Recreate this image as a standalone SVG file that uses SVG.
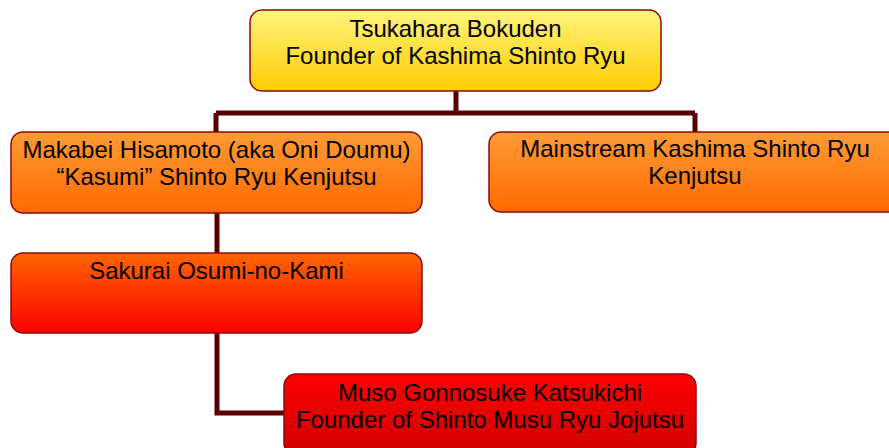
<svg xmlns="http://www.w3.org/2000/svg" width="889" height="448" viewBox="0 0 889 448">
<defs>
<linearGradient id="gYellow" x1="0" y1="0" x2="0" y2="1">
<stop offset="0" stop-color="#FFF47E"/><stop offset="1" stop-color="#FFCC00"/>
</linearGradient>
<linearGradient id="gOrange" x1="0" y1="0" x2="0" y2="1">
<stop offset="0" stop-color="#FF9B35"/><stop offset="1" stop-color="#FF6A00"/>
</linearGradient>
<linearGradient id="gOrRed" x1="0" y1="0" x2="0" y2="1">
<stop offset="0" stop-color="#FF6600"/><stop offset="1" stop-color="#FF0000"/>
</linearGradient>
<linearGradient id="gRed" x1="0" y1="0" x2="0" y2="1">
<stop offset="0" stop-color="#FF0000"/><stop offset="1" stop-color="#D00000"/>
</linearGradient>
</defs>
<style>
.box{stroke:#8A0A0A;stroke-width:1.5}
.lbl{font-family:"Liberation Sans",Arial,sans-serif;font-size:24px;fill:#000;text-anchor:middle}
.con{fill:none;stroke:#5A0000;stroke-width:5}
</style>
<g id="connectors">
<path class="con" d="M456 91 V113 M216 113 H695 M216 113 V132 M695 113 V132"/>
<path class="con" d="M217 213 V253"/>
<path class="con" d="M217 333 V413 H285"/>
</g>
<g id="n1">
<rect class="box" x="250" y="10" width="411" height="81" rx="12" fill="url(#gYellow)"/>
<text class="lbl" x="455.5" y="37">Tsukahara Bokuden</text>
<text class="lbl" x="455.5" y="64">Founder of Kashima Shinto Ryu</text>
</g>
<g id="n2">
<rect class="box" x="11" y="132" width="411" height="81" rx="12" fill="url(#gOrange)"/>
<text class="lbl" x="216.5" y="158">Makabei Hisamoto (aka Oni Doumu)</text>
<text class="lbl" x="216.5" y="185">“Kasumi” Shinto Ryu Kenjutsu</text>
</g>
<g id="n3">
<rect class="box" x="489" y="132" width="412" height="80" rx="12" fill="url(#gOrange)"/>
<text class="lbl" x="695" y="157">Mainstream Kashima Shinto Ryu</text>
<text class="lbl" x="695" y="184">Kenjutsu</text>
</g>
<g id="n4">
<rect class="box" x="11" y="253" width="411" height="80" rx="12" fill="url(#gOrRed)"/>
<text class="lbl" x="216.5" y="279">Sakurai Osumi-no-Kami</text>
</g>
<g id="n5">
<rect class="box" x="284" y="374" width="412" height="81" rx="12" fill="url(#gRed)"/>
<text class="lbl" x="490" y="401">Muso Gonnosuke Katsukichi</text>
<text class="lbl" x="490" y="428">Founder of Shinto Musu Ryu Jojutsu</text>
</g>
</svg>
